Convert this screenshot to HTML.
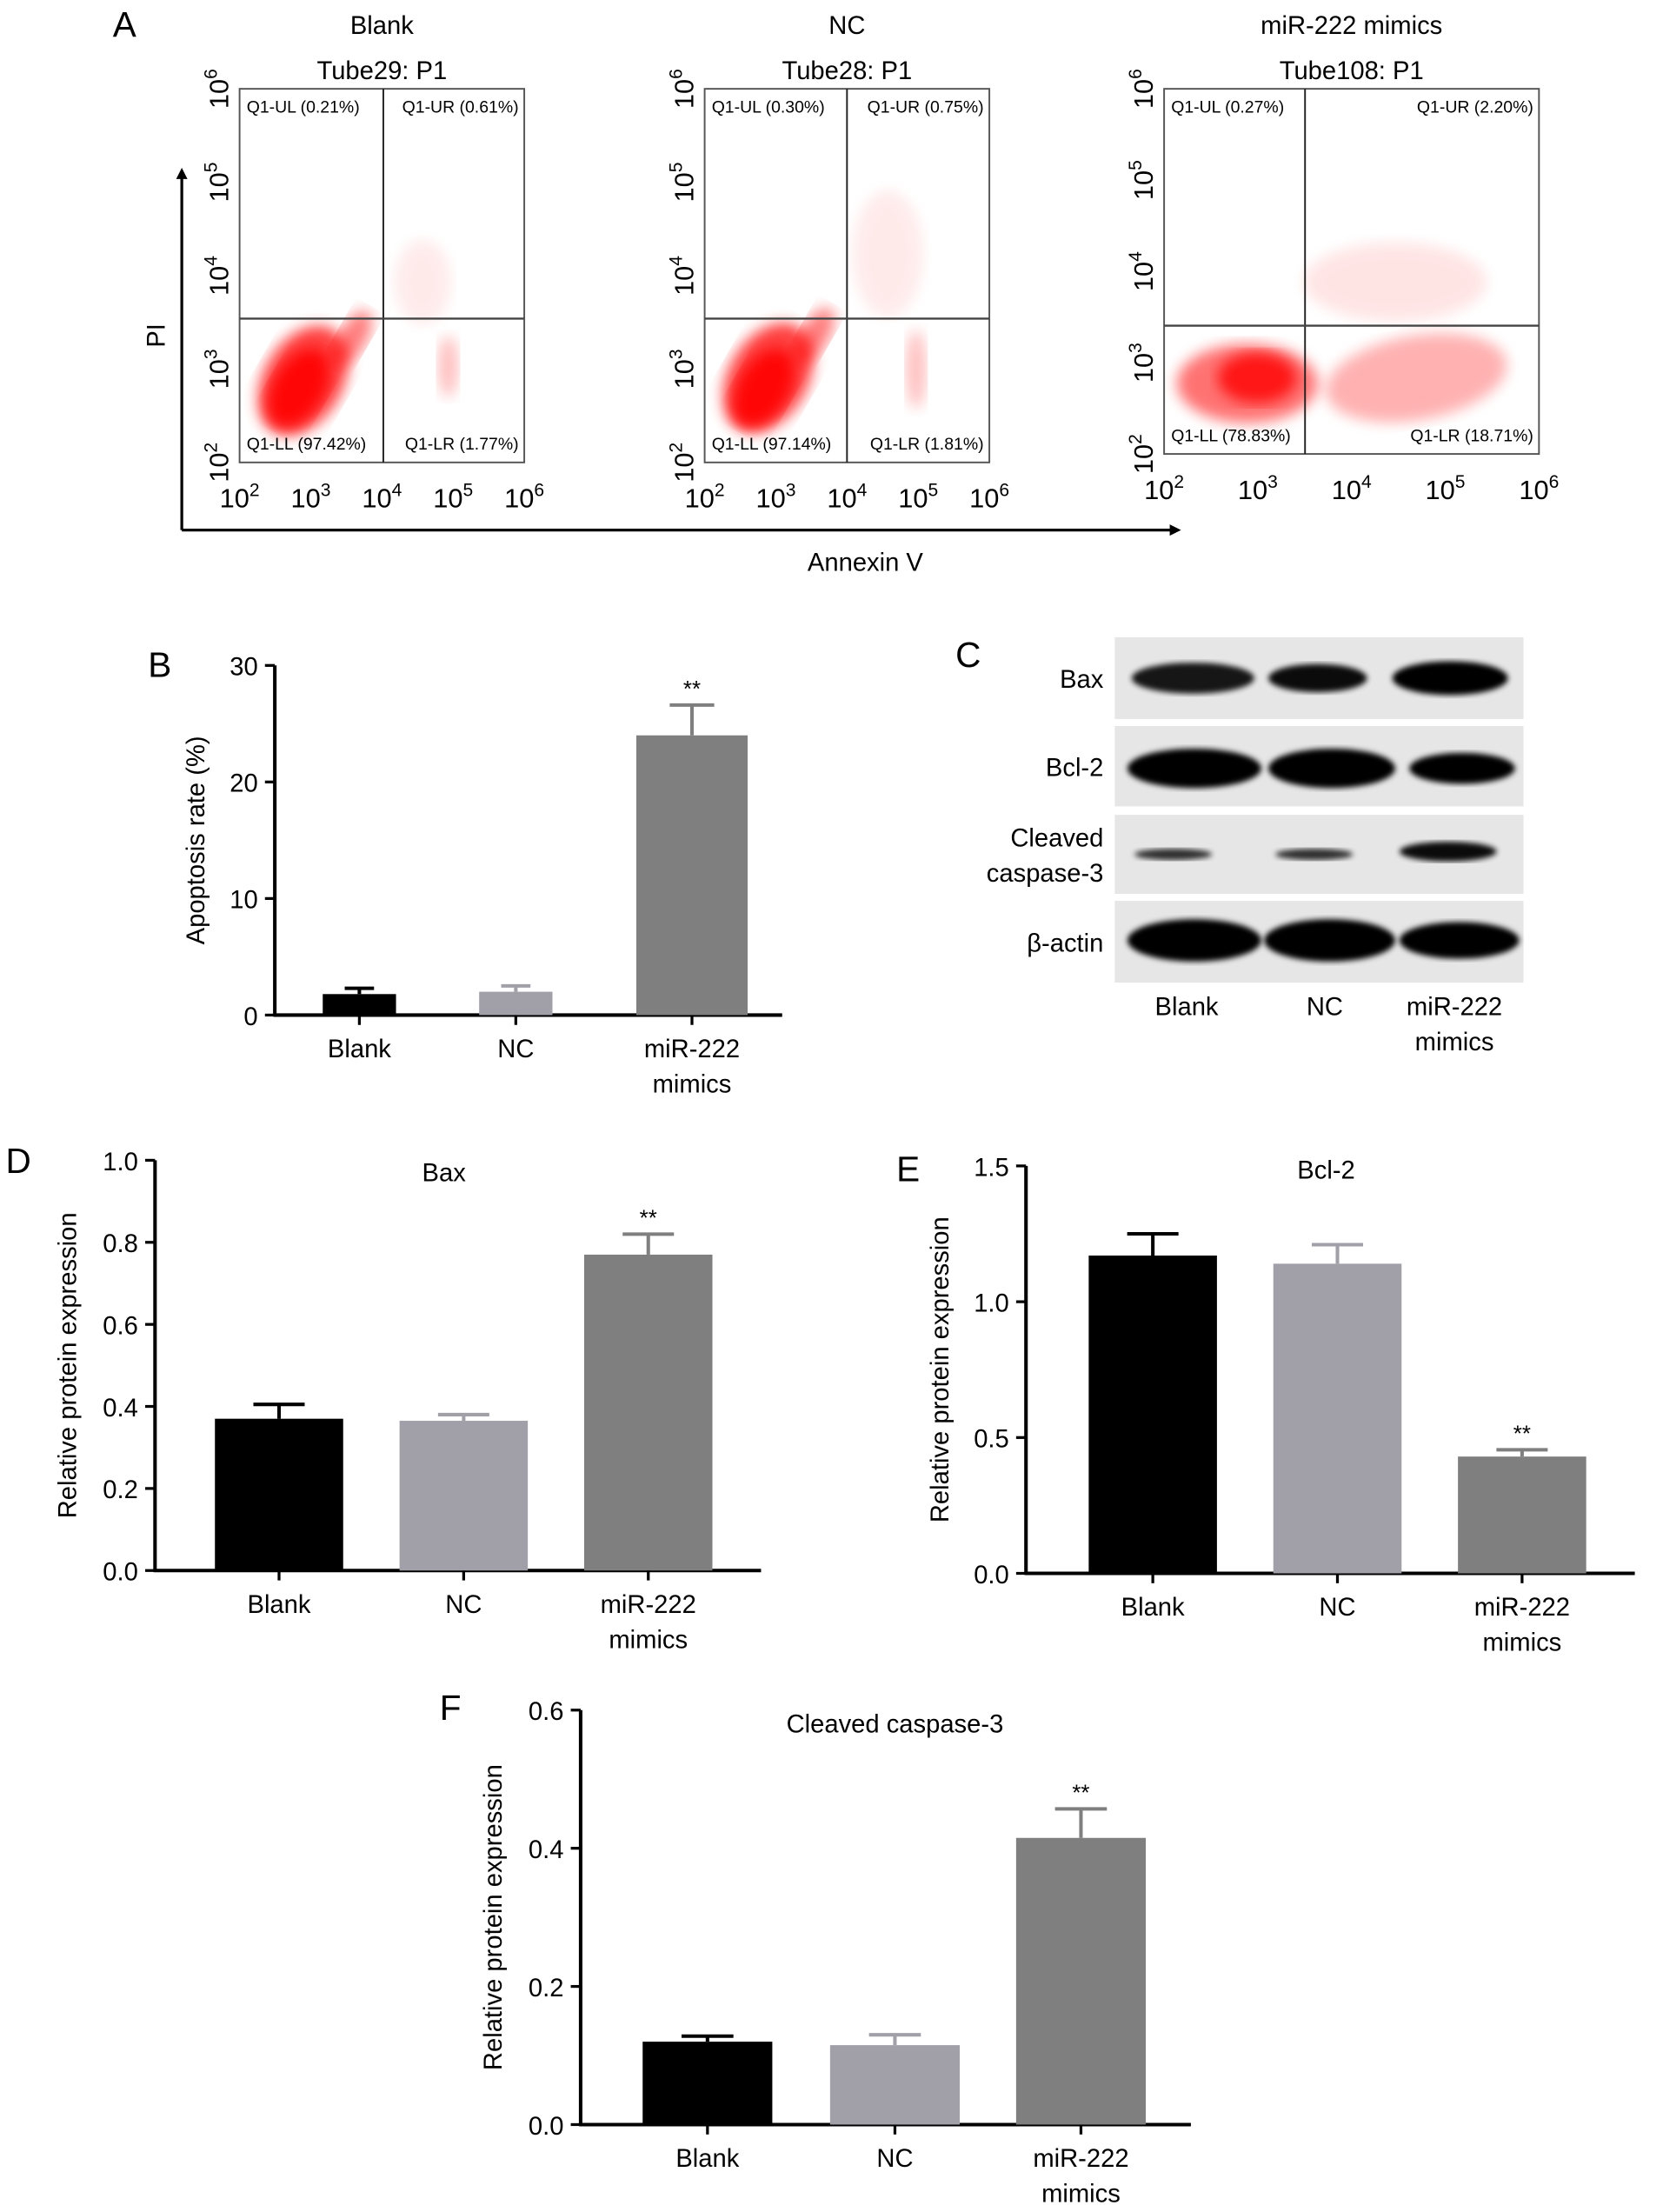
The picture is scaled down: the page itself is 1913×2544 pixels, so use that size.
<!DOCTYPE html>
<html><head><meta charset="utf-8"><style>
html,body{margin:0;padding:0;background:#fff}
svg{display:block;font-family:"Liberation Sans",Arial,sans-serif}
</style></head><body>
<svg id="fig" width="1913" height="2544" viewBox="0 0 1180 1569" preserveAspectRatio="none" xmlns="http://www.w3.org/2000/svg">
<defs>
<filter id="blur6"><feGaussianBlur stdDeviation="5"/></filter>
<filter id="blur2"><feGaussianBlur stdDeviation="2"/></filter>
</defs>
<rect width="1180" height="1569" fill="#fff"/>
<g id="root"></g>
</svg>
<script>
// ---- bar chart data ----
const categories = ["Blank","NC","miR-222 mimics"];
const barColors = ["#000000","#a1a0a8","#7f7f7f"];
const apoptosisValues = [1.8, 2.0, 24.0];
const apoptosisErrors = [0.5, 0.5, 2.6];
const apoptosisTicks = [0,10,20,30];
const baxValues = [0.37, 0.365, 0.77];
const baxErrors = [0.035, 0.015, 0.05];
const baxTicks = ["0.0","0.2","0.4","0.6","0.8","1.0"];
const bcl2Values = [1.17, 1.14, 0.43];
const bcl2Errors = [0.08, 0.07, 0.025];
const bcl2Ticks = ["0.0","0.5","1.0","1.5"];
const casp3Values = [0.12, 0.115, 0.415];
const casp3Errors = [0.008, 0.015, 0.042];
const casp3Ticks = ["0.0","0.2","0.4","0.6"];
// ---- flow cytometry quadrant data ----
const flowGroups = ["Blank","NC","miR-222 mimics"];
const flowTubes = ["Tube29: P1","Tube28: P1","Tube108: P1"];
const quadUL = ["0.21%","0.30%","0.27%"];
const quadUR = ["0.61%","0.75%","2.20%"];
const quadLL = ["97.42%","97.14%","78.83%"];
const quadLR = ["1.77%","1.81%","18.71%"];
const logTicks = [2,3,4,5,6];

const NS="http://www.w3.org/2000/svg";
const root=document.getElementById('root');
function el(tag,attrs,parent,text){const e=document.createElementNS(NS,tag);for(const k in attrs)e.setAttribute(k,attrs[k]);if(text!==undefined)e.textContent=text;(parent||root).appendChild(e);return e;}

[["A",80,26],["B",105,480],["C",678,473],["D",4,832],["E",636,838],["F",312,1220]].forEach(p=>{
  const t=el('text',{x:p[1],y:p[2],'font-size':25},root,p[0]);
  
  
});

// ---- Panel A flow plots ----
const flowBoxes=[{x0:170,x1:372,y0:63,y1:328,qx:272,qy:226},{x0:500,x1:702,y0:63,y1:328,qx:601,qy:226},{x0:826,x1:1092,y0:63,y1:322,qx:926,qy:231}];
const clouds=[
 [{cx:215,cy:270,rx:42,ry:28,rot:-60,o:0.75},{cx:212,cy:275,rx:30,ry:18,rot:-60,o:0.9},{cx:250,cy:240,rx:22,ry:10,rot:-60,o:0.5},{cx:318,cy:260,rx:7,ry:22,rot:0,o:0.25},{cx:300,cy:200,rx:20,ry:30,rot:0,o:0.08}],
 [{cx:545,cy:268,rx:42,ry:28,rot:-60,o:0.75},{cx:542,cy:275,rx:30,ry:18,rot:-60,o:0.9},{cx:578,cy:238,rx:22,ry:10,rot:-60,o:0.5},{cx:650,cy:262,rx:7,ry:28,rot:0,o:0.25},{cx:630,cy:180,rx:25,ry:45,rot:0,o:0.08}],
 [{cx:885,cy:272,rx:50,ry:28,rot:0,o:0.55},{cx:892,cy:268,rx:28,ry:18,rot:0,o:0.8},{cx:1005,cy:268,rx:65,ry:30,rot:-10,o:0.3},{cx:990,cy:200,rx:65,ry:28,rot:0,o:0.1}]
];
flowBoxes.forEach((b,i)=>{
  const g=el('g',{});
  
  
  const cx=(b.x0+b.x1)/2;
  const gt=el('text',{x:cx,y:24,'font-size':18,'text-anchor':'middle'},g,flowGroups[i]);
  
  
  const tt=el('text',{x:cx,y:56,'font-size':18,'text-anchor':'middle'},g,flowTubes[i]);
  
  
  clouds[i].forEach(c=>{
    const e=el('ellipse',{cx:c.cx,cy:c.cy,rx:c.rx,ry:c.ry,transform:`rotate(${c.rot} ${c.cx} ${c.cy})`,fill:'#f00',opacity:c.o,filter:'url(#blur6)'},g);
    
    
  });
  el('rect',{x:b.x0,y:b.y0,width:b.x1-b.x0,height:b.y1-b.y0,fill:'none',stroke:'#555','stroke-width':1.2},g);
  el('line',{x1:b.qx,y1:b.y0,x2:b.qx,y2:b.y1,stroke:'#222','stroke-width':1.2},g);
  el('line',{x1:b.x0,y1:b.qy,x2:b.x1,y2:b.qy,stroke:'#444','stroke-width':1.5},g);
  const fs=12;
  [["Q1-UL ("+quadUL[i]+")",b.x0+5,b.y0+17,'start'],["Q1-UR ("+quadUR[i]+")",b.x1-4,b.y0+17,'end'],
   ["Q1-LL ("+quadLL[i]+")",b.x0+5,b.y1-9,'start'],["Q1-LR ("+quadLR[i]+")",b.x1-4,b.y1-9,'end']].forEach(q=>{
    const t=el('text',{x:q[1],y:q[2],'font-size':fs,'text-anchor':q[3]},g,q[0]);
    
    
  });
  const xs=v=>b.x0+(v-2)/4*(b.x1-b.x0);
  const ys=v=>b.y1-(v-2)/4*(b.y1-b.y0);
  logTicks.forEach(v=>{
    const t=el('text',{x:xs(v),y:b.y1+32,'font-size':19,'text-anchor':'middle'},g);
    
    
    el('tspan',{},t,'10');el('tspan',{dy:-8,'font-size':13},t,String(v));
    const yl=el('text',{transform:`translate(${b.x0-8},${ys(v)}) rotate(-90)`,'font-size':19,'text-anchor':'middle'},g);
    
    
    el('tspan',{},yl,'10');el('tspan',{dy:-8,'font-size':13},yl,String(v));
  });
});
el('line',{x1:129,y1:376,x2:832,y2:376,stroke:'#000','stroke-width':2});
el('path',{d:'M838 376 L830 372 L830 380 Z',fill:'#000'});
el('line',{x1:129,y1:376,x2:129,y2:125,stroke:'#000','stroke-width':2});
el('path',{d:'M129 119 L125 127 L133 127 Z',fill:'#000'});
const axA=el('text',{x:614,y:405,'font-size':18,'text-anchor':'middle'},root,'Annexin V');


const piA=el('text',{transform:'translate(117,238) rotate(-90)','font-size':18,'text-anchor':'middle'},root,'PI');



// ---- Bar charts ----
function barChart(o){
  const g=el('g',{});
  
  
  const ymax=parseFloat(o.ticks[o.ticks.length-1]);
  const ys=v=>o.yb-(v/ymax)*(o.yb-o.yt);
  el('line',{x1:o.ax,y1:o.yt,x2:o.ax,y2:o.yb+1,stroke:'#000','stroke-width':2.5},g);
  el('line',{x1:o.ax-1,y1:o.yb,x2:o.axEnd,y2:o.yb,stroke:'#000','stroke-width':2.5},g);
  o.ticks.forEach(t=>{
    const y=ys(parseFloat(t));
    el('line',{x1:o.ax-7,y1:y,x2:o.ax,y2:y,stroke:'#000','stroke-width':2},g);
    const tl=el('text',{x:o.ax-12,y:y+7,'font-size':18,'text-anchor':'end'},g,t);
    
    
  });
  const yl=el('text',{transform:`translate(${o.ylx},${(o.yt+o.yb)/2}) rotate(-90)`,'font-size':18,'text-anchor':'middle'},g,o.ylabel);
  
  
  if(o.title){const tt=el('text',{x:o.titleX,y:o.titleY,'font-size':18,'text-anchor':'middle'},g,o.title);
    
    }
  o.values.forEach((v,i)=>{
    const c=o.centers[i], w=o.bw[i];
    const r=el('rect',{x:c-w/2,y:ys(v),width:w,height:o.yb-ys(v),fill:barColors[i]},g);
    
    
    const ye=ys(v+o.errors[i]);
    el('line',{x1:c,y1:ye,x2:c,y2:ys(v),stroke:barColors[i],'stroke-width':2.5},g);
    el('line',{x1:c-w*0.2,y1:ye,x2:c+w*0.2,y2:ye,stroke:barColors[i],'stroke-width':2.5},g);
    el('line',{x1:c,y1:o.yb,x2:c,y2:o.yb+7,stroke:'#000','stroke-width':2},g);
    const parts=categories[i].split(' ');
    parts.forEach((p,k)=>{
      const t=el('text',{x:c,y:o.yb+30+k*25,'font-size':18,'text-anchor':'middle'},g,p);
      
      
    });
    if(i===2){const s=el('text',{x:c,y:ye-6,'font-size':16,'text-anchor':'middle'},g,'**');
      
      }
  });
}
barChart({name:'apoptosis-chart',ax:195,yt:472,yb:720,axEnd:555,ticks:apoptosisTicks.map(String),values:apoptosisValues,errors:apoptosisErrors,centers:[255,366,491],bw:[52,52,79],ylx:145,ylabel:'Apoptosis rate (%)'});
barChart({name:'bax-chart',ax:110,yt:823,yb:1114,axEnd:540,ticks:baxTicks,values:baxValues,errors:baxErrors,centers:[198,329,460],bw:[91,91,91],ylx:54,ylabel:'Relative protein expression',title:'Bax',titleX:315,titleY:838});
barChart({name:'bcl2-chart',ax:728,yt:827,yb:1116,axEnd:1160,ticks:bcl2Ticks,values:bcl2Values,errors:bcl2Errors,centers:[818,949,1080],bw:[91,91,91],ylx:673,ylabel:'Relative protein expression',title:'Bcl-2',titleX:941,titleY:836});
barChart({name:'casp3-chart',ax:412,yt:1213,yb:1507,axEnd:845,ticks:casp3Ticks,values:casp3Values,errors:casp3Errors,centers:[502,635,767],bw:[92,92,92],ylx:356,ylabel:'Relative protein expression',title:'Cleaved caspase-3',titleX:635,titleY:1229});

// ---- Panel C western blot ----
const blotRows=[{label:['Bax'],y0:452,y1:510,bands:[[803,890,481,11,0.9],[900,970,481,10,0.95],[988,1070,481,12,1]]},
 {label:['Bcl-2'],y0:515,y1:572,bands:[[800,895,545,14,1],[900,990,545,14,1],[1000,1075,545,11,1]]},
 {label:['Cleaved','caspase-3'],y0:578,y1:634,bands:[[805,860,606,4,0.8],[905,960,606,4,0.8],[993,1062,604,7,0.95]]},
 {label:['β-actin'],y0:639,y1:697,bands:[[800,895,667,15,1],[897,990,667,15,1],[993,1078,667,13,1]]}];
blotRows.forEach(r=>{
  const g=el('g',{});
  
  
  el('rect',{x:791,y:r.y0,width:290,height:r.y1-r.y0,fill:'#e6e6e6'},g);
  r.bands.forEach(b=>{
    const e=el('ellipse',{cx:(b[0]+b[1])/2,cy:b[2],rx:(b[1]-b[0])/2,ry:b[3],fill:'#000',opacity:b[4],filter:'url(#blur2)'},g);
    
    
  });
  const n=r.label.length;
  r.label.forEach((l,k)=>{
    const t=el('text',{x:783,y:(r.y0+r.y1)/2+7+(k-(n-1)/2)*25,'font-size':18,'text-anchor':'end'},g,l);
    
    
  });
});
[["Blank",842,720],["NC",940,720],["miR-222",1032,720],["mimics",1032,745]].forEach(l=>{
  const t=el('text',{x:l[1],y:l[2],'font-size':18,'text-anchor':'middle'},root,l[0]);
  
  
});
</script>
</body></html>
